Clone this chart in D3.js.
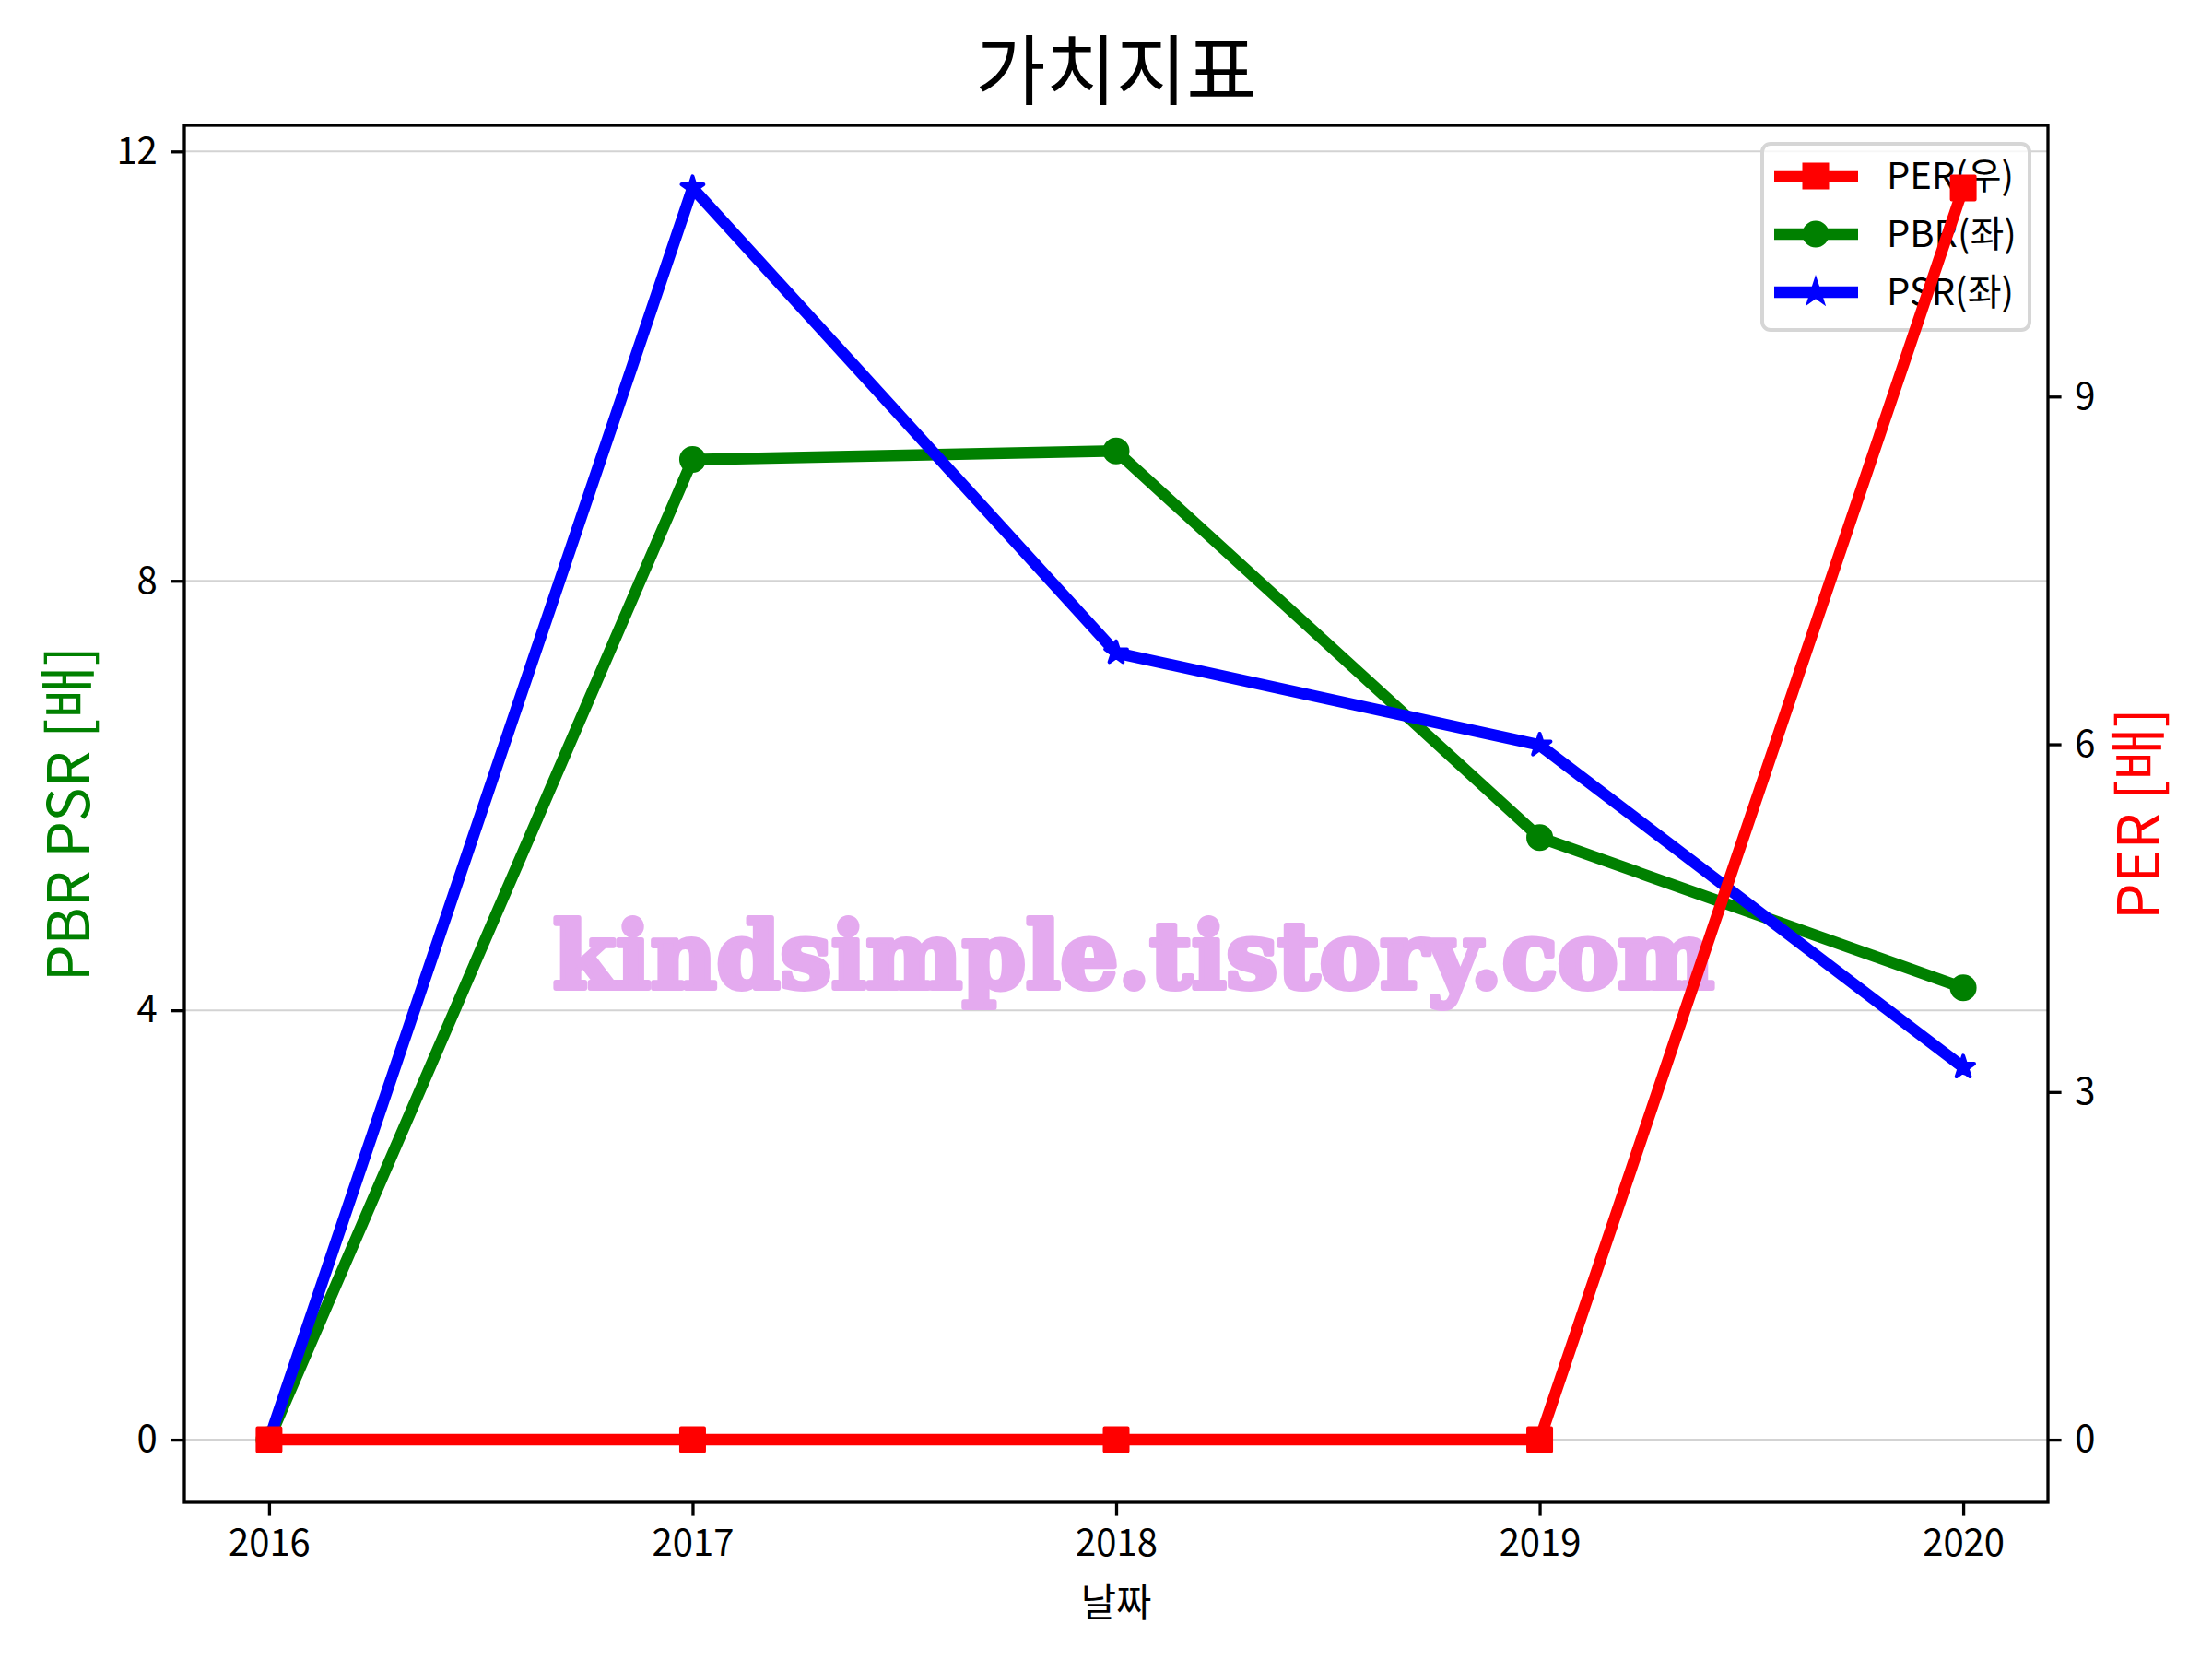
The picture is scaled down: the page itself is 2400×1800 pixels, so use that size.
<!DOCTYPE html>
<html><head><meta charset="utf-8">
<script src="https://cdn.jsdelivr.net/npm/d3@7"></script>
<style>body{margin:0;background:#fff} svg{display:block} text{font-family:"Noto Sans CJK KR","Noto Sans",sans-serif}</style>
</head><body><svg id="c" width="2400" height="1800"></svg>
<script>
const years=[2016,2017,2018,2019,2020];
const perValues=[0,0,0,0,10.8];
const pbrValues=[0,9.13,9.21,5.61,4.21];
const psrValues=[0,11.66,7.33,6.47,3.47];
const leftTicks=[0,4,8,12];
const rightTicks=[0,3,6,9];
const seriesNames=["PER(우)","PBR(좌)","PSR(좌)"];
const titleText="가치지표";
const xLabel="날짜";
const leftLabel="PBR PSR [배]";
const rightLabel="PER [배]";
const watermark="kindsimple.tistory.com";

const svg=d3.select("#c");
const L=200,R=2222,T=136,B=1630;
const pad=(lo,hi)=>{const r=hi-lo;return [lo-0.05*r,hi+0.05*r];};
const x=d3.scaleLinear().domain(pad(d3.min(years),d3.max(years))).range([L,R]);
const yL=d3.scaleLinear().domain(pad(0,d3.max([...pbrValues,...psrValues]))).range([B,T]);
const yR=d3.scaleLinear().domain(pad(0,d3.max(perValues))).range([B,T]);

// grid
svg.append("g").selectAll("line").data(leftTicks).join("line")
  .attr("x1",L).attr("x2",R).attr("y1",d=>yL(d)).attr("y2",d=>yL(d))
  .attr("stroke","#d3d3d3").attr("stroke-width",2);

function drawSeries(vals,y,color,sym,size){
  const g=svg.append("g");
  g.append("path").datum(vals)
   .attr("d",d3.line().x((d,i)=>x(years[i])).y(d=>y(d)))
   .attr("fill","none").attr("stroke",color).attr("stroke-width",12.5)
   .attr("stroke-linejoin","round").attr("stroke-linecap","square");
  g.selectAll("path.m").data(vals).join("path").attr("class","m")
   .attr("d",d3.symbol().type(sym).size(size))
   .attr("transform",(d,i)=>`translate(${x(years[i])},${y(d)})`)
   .attr("fill",color).attr("stroke",color).attr("stroke-width",4).attr("stroke-linejoin","round");
}
const starSize=156.25/0.8908130915292852;
drawSeries(pbrValues,yL,"#008000",d3.symbolCircle,Math.PI*12.5*12.5);
drawSeries(psrValues,yL,"#0000ff",d3.symbolStar,starSize);

// watermark
svg.append("text").attr("x",1230).attr("y",1072).attr("text-anchor","middle")
  .attr("textLength",1260).attr("lengthAdjust","spacingAndGlyphs")
  .style("font-family","'DejaVu Serif',serif").style("font-weight","bold")
  .attr("font-size",100).attr("fill","#e4aaef").attr("stroke","#e4aaef").attr("stroke-width",6)
  .attr("stroke-linejoin","round").text(watermark);

// legend
const lg=svg.append("g");
lg.append("rect").attr("x",1912).attr("y",156).attr("width",290).attr("height",202).attr("rx",9)
  .attr("fill","#fff").attr("fill-opacity",0.8).attr("stroke","#d6d6d6").attr("stroke-width",4);
const legColors=["#ff0000","#008000","#0000ff"];
const legSyms=[d3.symbolSquare,d3.symbolCircle,d3.symbolStar];
const legSizes=[625,Math.PI*12.5*12.5,starSize];
const legY=[191,254,317];
seriesNames.forEach((n,i)=>{
  lg.append("line").attr("x1",1925).attr("x2",2016).attr("y1",legY[i]).attr("y2",legY[i])
    .attr("stroke",legColors[i]).attr("stroke-width",12.5);
  lg.append("path").attr("d",d3.symbol().type(legSyms[i]).size(legSizes[i])())
    .attr("transform",`translate(1970,${legY[i]})`).attr("fill",legColors[i])
    .attr("stroke",legColors[i]).attr("stroke-width",4);
  lg.append("text").attr("x",2047).attr("y",legY[i]+14).attr("font-size",40).attr("fill","#000").text(n);
});

// PER on top (twin axes)
drawSeries(perValues,yR,"#ff0000",d3.symbolSquare,625);

// spines
svg.append("rect").attr("x",L).attr("y",T).attr("width",R-L).attr("height",B-T)
  .attr("fill","none").attr("stroke","#000").attr("stroke-width",3.3);

// axes
const tk=14.6, tp=14.6;
const gx=svg.append("g").attr("transform",`translate(0,${B})`)
  .call(d3.axisBottom(x).tickValues(years).tickFormat(d3.format("d")).tickSize(tk).tickPadding(tp));
const gl=svg.append("g").attr("transform",`translate(${L},0)`)
  .call(d3.axisLeft(yL).tickValues(leftTicks).tickSize(tk).tickPadding(tp));
const gr=svg.append("g").attr("transform",`translate(${R},0)`)
  .call(d3.axisRight(yR).tickValues(rightTicks).tickSize(tk).tickPadding(tp));
[gx,gl,gr].forEach(g=>{
  g.select(".domain").remove();
  g.selectAll(".tick line").attr("stroke","#000").attr("stroke-width",3.3);
  g.selectAll(".tick text").attr("font-size",40).attr("fill","#000")
   .style("font-family","'Noto Sans CJK KR',sans-serif");
});

// labels
svg.append("text").attr("x",(L+R)/2).attr("y",107).attr("text-anchor","middle")
  .attr("font-size",83).attr("fill","#000").text(titleText);
svg.append("text").attr("x",(L+R)/2).attr("y",1754).attr("text-anchor","middle")
  .attr("font-size",41.7).attr("fill","#000").text(xLabel);
svg.append("text").attr("transform",`translate(97,${(T+B)/2}) rotate(-90)`).attr("text-anchor","middle")
  .attr("font-size",62.5).attr("fill","#008000").text(leftLabel);
svg.append("text").attr("transform",`translate(2343,${(T+B)/2}) rotate(-90)`).attr("text-anchor","middle")
  .attr("font-size",62.5).attr("fill","#ff0000").text(rightLabel);
</script></body></html>
